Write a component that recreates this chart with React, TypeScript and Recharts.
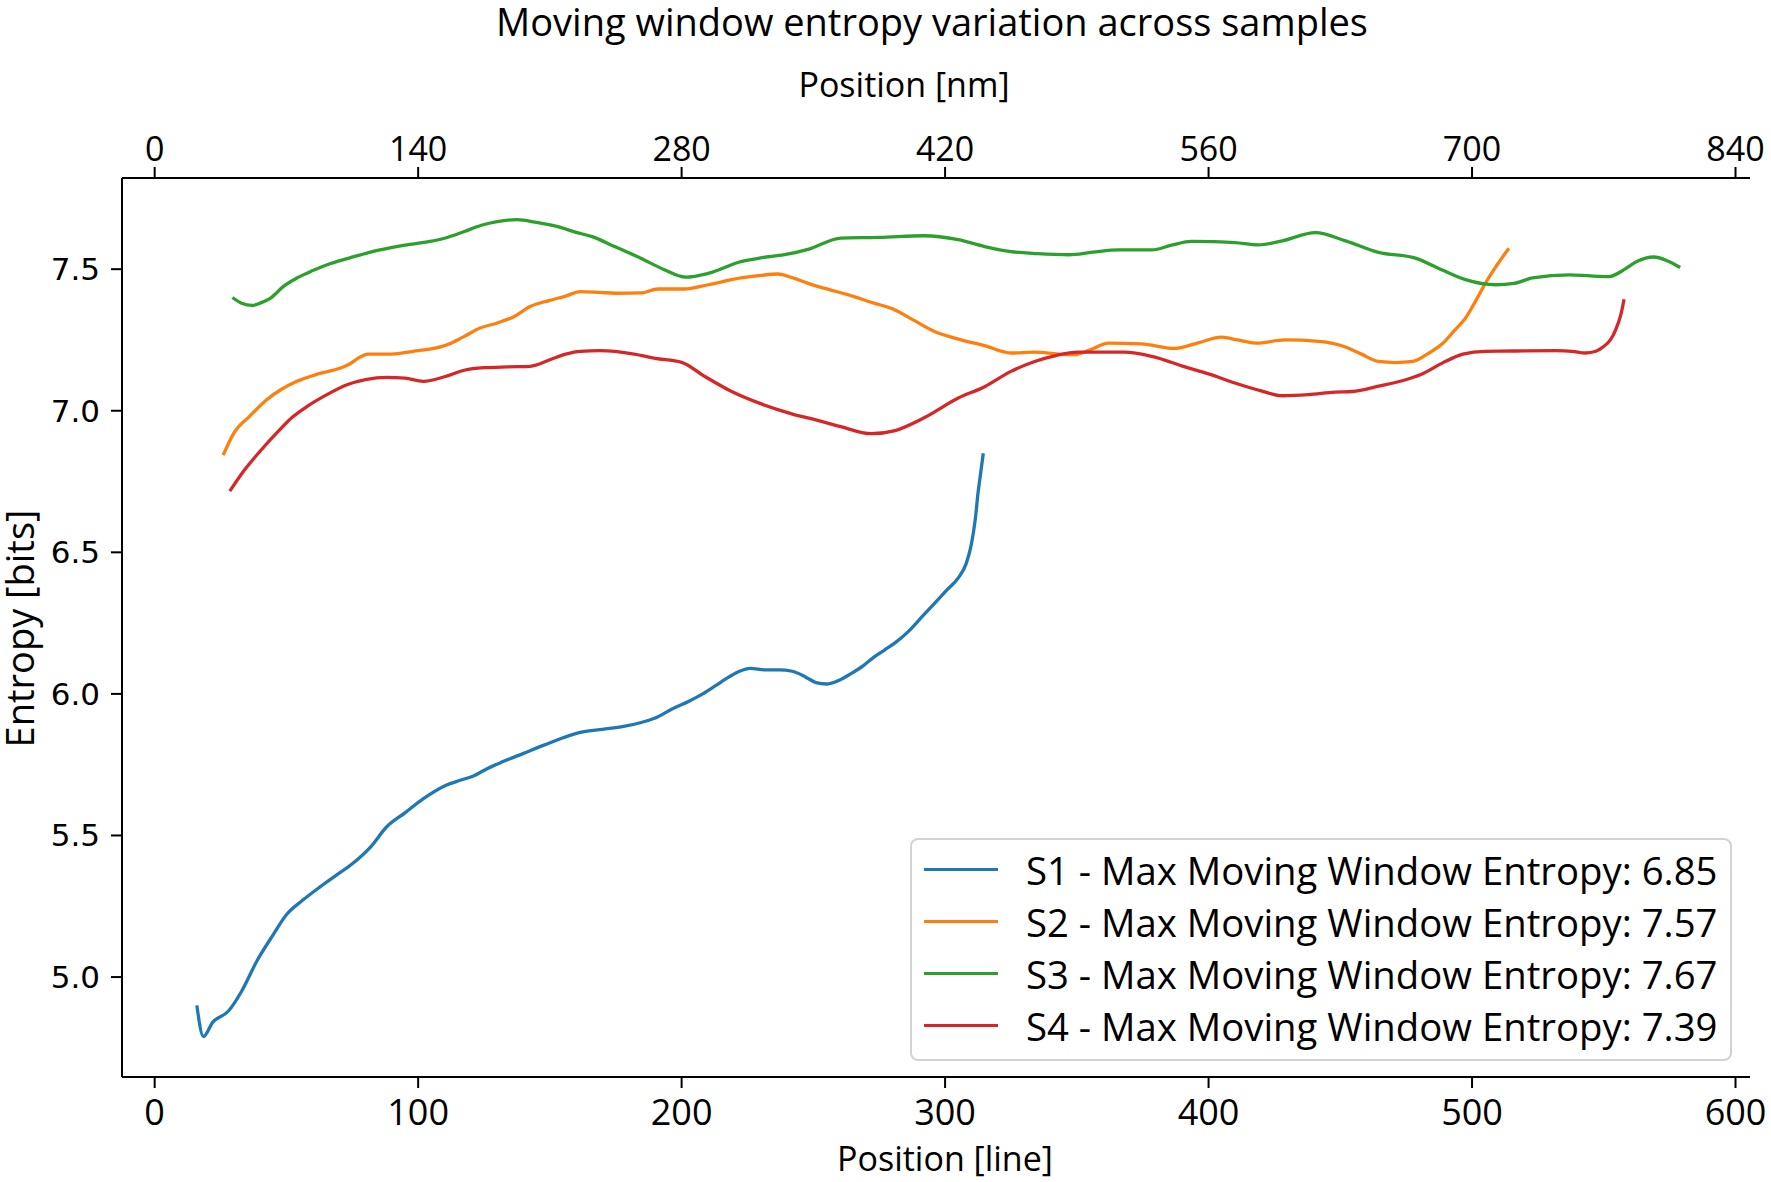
import React from 'react';
import { LineChart, Line, XAxis, YAxis, Legend, Label, ReferenceArea } from 'recharts';

// positions are in lines, entropy in bits
const s1Pos = [16, 18.5, 22, 28, 33, 39, 45, 50, 56, 63, 69, 75, 82, 88, 95, 102, 110, 116, 121, 126, 132, 140, 148, 155, 162, 170, 178, 185, 190, 196, 203, 208, 213, 218, 222, 226, 232, 237, 242, 247, 251, 255, 259, 264, 269, 273, 277, 281, 286, 291, 296, 301, 305, 308, 310, 311.5, 312.5, 313.5, 314.5];
const s1Ent = [4.9, 4.79, 4.84, 4.88, 4.95, 5.06, 5.15, 5.22, 5.27, 5.32, 5.36, 5.4, 5.46, 5.53, 5.58, 5.63, 5.675, 5.695, 5.71, 5.735, 5.76, 5.79, 5.82, 5.845, 5.865, 5.875, 5.885, 5.9, 5.915, 5.945, 5.975, 6.0, 6.03, 6.06, 6.08, 6.09, 6.085, 6.085, 6.08, 6.06, 6.04, 6.035, 6.045, 6.07, 6.1, 6.13, 6.155, 6.18, 6.22, 6.27, 6.32, 6.37, 6.41, 6.46, 6.53, 6.62, 6.71, 6.78, 6.85];

const s2Pos = [26, 30, 36, 42.5, 48, 54, 62, 70.5, 74, 78, 81, 90, 98, 106, 111, 117, 123.5, 130, 136.5, 142.5, 150, 156, 161.5, 169, 175, 184.5, 191, 201, 210, 222.5, 230, 236.5, 242, 248, 254, 263, 273, 280, 288, 296, 305, 315, 325, 334, 343, 349, 355, 362, 374.5, 387, 396, 405, 411, 418, 429, 442, 452, 458, 464.5, 471, 477.5, 483, 489, 493, 497.5, 501.5, 505.5, 509.5, 514];
const s2Ent = [6.843, 6.92, 6.98, 7.039, 7.075, 7.104, 7.13, 7.151, 7.165, 7.19, 7.2, 7.2, 7.21, 7.22, 7.233, 7.26, 7.292, 7.31, 7.333, 7.368, 7.39, 7.405, 7.421, 7.418, 7.415, 7.416, 7.43, 7.43, 7.445, 7.469, 7.478, 7.483, 7.47, 7.45, 7.433, 7.41, 7.38, 7.36, 7.32, 7.28, 7.253, 7.23, 7.204, 7.207, 7.2, 7.198, 7.215, 7.239, 7.236, 7.22, 7.24, 7.26, 7.25, 7.239, 7.25, 7.245, 7.225, 7.2, 7.174, 7.17, 7.174, 7.2, 7.239, 7.28, 7.327, 7.39, 7.457, 7.515, 7.574];

const s3Pos = [29.5, 33, 37, 40, 44, 49, 54, 60, 66.5, 76, 85.5, 95, 104.5, 111, 117.5, 124, 130, 137.5, 145, 153, 160, 166, 175, 184.5, 193, 201.5, 210, 222.5, 230, 239, 248, 260.5, 275, 292, 305, 315, 325, 335, 347, 356, 366, 378.5, 386, 393.5, 402, 410, 419, 428, 440.5, 452, 464.5, 478.5, 488, 497.5, 509, 516, 523, 537, 545, 552, 558, 562.5, 569, 574, 579];
const s3Ent = [7.4, 7.38, 7.372, 7.38, 7.398, 7.44, 7.469, 7.495, 7.519, 7.545, 7.568, 7.585, 7.598, 7.612, 7.633, 7.655, 7.668, 7.675, 7.665, 7.65, 7.63, 7.615, 7.578, 7.539, 7.5, 7.472, 7.485, 7.527, 7.54, 7.551, 7.57, 7.61, 7.612, 7.618, 7.604, 7.58, 7.562, 7.555, 7.551, 7.56, 7.568, 7.568, 7.585, 7.598, 7.597, 7.594, 7.586, 7.6, 7.629, 7.6, 7.559, 7.539, 7.5, 7.463, 7.445, 7.45, 7.469, 7.48, 7.476, 7.474, 7.5, 7.527, 7.543, 7.53, 7.506];

const s4Pos = [28.5, 34, 40, 47.5, 52, 58, 65, 73, 80, 88, 95, 102, 110, 117.5, 125, 134, 142.5, 150, 156, 161.5, 169, 182, 190, 200, 209, 219, 230, 241.5, 252, 260, 272, 281, 292, 305, 315, 325, 334, 342, 350.5, 360, 368, 378.5, 391, 400, 410, 420, 428, 438, 448, 454.5, 465, 473.5, 481, 489, 496.5, 505, 516.5, 532, 538, 543, 547, 549.5, 552.5, 554.5, 556.5, 557.7];
const s4Ent = [6.716, 6.79, 6.857, 6.933, 6.975, 7.016, 7.055, 7.092, 7.11, 7.118, 7.115, 7.104, 7.12, 7.143, 7.152, 7.155, 7.157, 7.18, 7.2, 7.21, 7.212, 7.2, 7.185, 7.171, 7.12, 7.068, 7.025, 6.99, 6.965, 6.945, 6.919, 6.93, 6.975, 7.045, 7.085, 7.139, 7.174, 7.195, 7.207, 7.207, 7.207, 7.192, 7.155, 7.13, 7.098, 7.07, 7.053, 7.057, 7.066, 7.068, 7.088, 7.106, 7.13, 7.17, 7.2, 7.21, 7.211, 7.212, 7.21, 7.204, 7.21, 7.224, 7.25, 7.286, 7.34, 7.394];

const seriesNames = ['S1', 'S2', 'S3', 'S4'];
const maxEntropy = [6.85, 7.57, 7.67, 7.39];
const colors = ['#1f77b4', '#ff7f0e', '#2ca02c', '#d62728'];

const lineTicks = [0, 100, 200, 300, 400, 500, 600];
const nmTicks = [0, 140, 280, 420, 560, 700, 840];
const entropyTicks = [5.0, 5.5, 6.0, 6.5, 7.0, 7.5];

const NM_PER_LINE = 1.4;
const X_DOMAIN = [-12.4, 605.5];
const Y_DOMAIN = [4.647, 7.822];

const W = 1771;
const H = 1182;
const PLOT = { left: 122, right: 1750, top: 178, bottom: 1077 };
const AXIS_H = 60;
const AXIS_W = 80;

const toPoints = (pos: number[], ent: number[]) => pos.map((p, i) => ({ pos: p, ent: ent[i] }));
const series = [
  toPoints(s1Pos, s1Ent),
  toPoints(s2Pos, s2Ent),
  toPoints(s3Pos, s3Ent),
  toPoints(s4Pos, s4Ent),
];

const SANS = '"Open Sans", "Noto Sans", sans-serif';
const Y_LABEL_X = 34;
const Y_LABEL_Y = (PLOT.top + PLOT.bottom) / 2 + 1;

const renderLegend = (props: any) => {
  const { payload = [] } = props;
  return (
    <div
      style={{
        position: 'relative',
        width: 822,
        height: 223,
        boxSizing: 'border-box',
        border: '2px solid #d2d2d2',
        borderRadius: 8,
        background: 'rgba(255,255,255,0.85)',
      }}
    >
      {payload.map((entry: any, i: number) => (
        <div
          key={entry.value}
          style={{
            position: 'absolute',
            left: 0,
            top: 3.5 + 52 * i,
            height: 52,
            display: 'flex',
            alignItems: 'center',
            whiteSpace: 'nowrap',
          }}
        >
          <div style={{ marginLeft: 12, width: 74, height: 3.3, background: entry.color }} />
          <span style={{ marginLeft: 28, fontFamily: SANS, fontSize: 38.3, color: '#000', lineHeight: '52px' }}>
            {entry.value}
          </span>
        </div>
      ))}
    </div>
  );
};

const App = () => {
  return (
    <div style={{ position: 'absolute', left: 0, top: 0, width: W, height: H, background: '#fff' }}>
      <svg style={{ position: 'absolute', left: 0, top: 0 }} width={W} height={60}>
        <text x={932} y={36} textAnchor="middle" fill="#000" fontSize={38} fontFamily={SANS}>
          Moving window entropy variation across samples
        </text>
      </svg>
      <LineChart
        width={W}
        height={H}
        margin={{
          top: PLOT.top - AXIS_H,
          right: W - PLOT.right,
          bottom: H - PLOT.bottom - AXIS_H,
          left: PLOT.left - AXIS_W,
        }}
      >
        <XAxis
          xAxisId="bottom"
          orientation="bottom"
          type="number"
          dataKey="pos"
          domain={X_DOMAIN}
          allowDataOverflow
          ticks={lineTicks}
          height={AXIS_H}
          tickSize={11}
          tickMargin={11}
          axisLine={{ stroke: '#000', strokeWidth: 2 }}
          tickLine={{ stroke: '#000', strokeWidth: 2 }}
          tick={{ fill: '#000', fontSize: 36, fontFamily: SANS }}
        >
          <Label
            value="Position [line]"
            position="bottom"
            offset={10}
            dx={9}
            fill="#000"
            fontSize={34}
            fontFamily={SANS}
          />
        </XAxis>
        {/* same scale as the bottom axis, labelled in nm */}
        <XAxis
          xAxisId="top"
          orientation="top"
          type="number"
          dataKey="pos"
          domain={X_DOMAIN}
          allowDataOverflow
          ticks={nmTicks.map((v) => v / NM_PER_LINE)}
          tickFormatter={(v: number) => String(Math.round(v * NM_PER_LINE))}
          height={AXIS_H}
          tickSize={11}
          tickMargin={6}
          axisLine={{ stroke: '#000', strokeWidth: 2 }}
          tickLine={{ stroke: '#000', strokeWidth: 2 }}
          tick={{ fill: '#000', fontSize: 34, fontFamily: SANS }}
        >
          <Label
            value="Position [nm]"
            position="top"
            offset={21}
            dx={-32}
            fill="#000"
            fontSize={34}
            fontFamily={SANS}
          />
        </XAxis>
        <YAxis
          yAxisId="left"
          type="number"
          domain={Y_DOMAIN}
          allowDataOverflow
          ticks={entropyTicks}
          tickFormatter={(v: number) => v.toFixed(1)}
          width={AXIS_W}
          tickSize={11}
          tickMargin={11}
          axisLine={{ stroke: '#000', strokeWidth: 2 }}
          tickLine={{ stroke: '#000', strokeWidth: 2 }}
          tick={{ fill: '#000', fontSize: 31, fontFamily: '"DejaVu Sans", sans-serif' }}
        >
          <Label
            value="Entropy [bits]"
            content={() => (
              <text
                x={Y_LABEL_X}
                y={Y_LABEL_Y}
                transform={`rotate(-90, ${Y_LABEL_X}, ${Y_LABEL_Y})`}
                textAnchor="middle"
                fill="#000"
                fontSize={38}
                fontFamily={SANS}
              >
                Entropy [bits]
              </text>
            )}
          />
        </YAxis>
        <ReferenceArea
          xAxisId="bottom"
          yAxisId="left"
          fill="none"
          stroke="#000"
          strokeWidth={2}
          ifOverflow="visible"
        />
        {series.map((data, i) => (
          <Line
            key={seriesNames[i]}
            xAxisId={i === 0 ? 'top' : 'bottom'}
            yAxisId="left"
            data={data}
            dataKey="ent"
            name={`${seriesNames[i]} - Max Moving Window Entropy: ${maxEntropy[i].toFixed(2)}`}
            type="monotone"
            stroke={colors[i]}
            strokeWidth={3.3}
            dot={false}
            activeDot={false}
            isAnimationActive={false}
          />
        ))}
        <Legend
          layout="vertical"
          align="center"
          verticalAlign="middle"
          wrapperStyle={{ left: 910, top: 838, width: 822, height: 223 }}
          content={renderLegend}
        />
      </LineChart>
    </div>
  );
};

export default App;
